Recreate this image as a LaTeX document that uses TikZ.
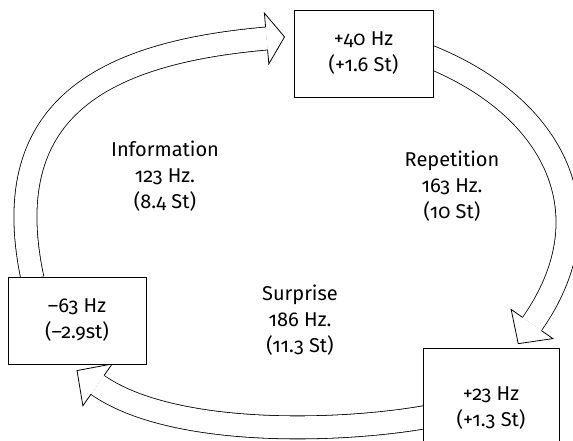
\documentclass[tikz,border=0pt]{standalone}
\usepackage{fontspec}
\setmainfont{Fira Sans}[Numbers=OldStyle]
\usetikzlibrary{calc,backgrounds}

% hollow block-arrow head: end point, direction, length
\newcommand{\blockhead}[3]{%
  \begin{scope}[shift={(#1)},rotate=#2]
    \filldraw[fill=white,line width=0.8pt,line join=miter]
      (0,11.5) -- (0,25.5) -- (#3,0) -- (0,-25.5) -- (0,-11.5);
  \end{scope}}

\begin{document}
\begin{tikzpicture}[x=1pt,y=1pt,
  hzbox/.style={draw,fill=white,line width=0.8pt,inner sep=0pt,align=center,minimum height=87pt},
  cue/.style={align=center},
  shaft/.style={draw=black,line width=0.8pt,double=white,double distance=22.2pt},
  every node/.style={font=\fontsize{20}{26}\selectfont}]
  \useasboundingbox (0,0) rectangle (573,441);
  % the three pitch boxes
  \node[hzbox,minimum width=139pt] (b40) at (363.5,387.5) {+40 Hz\\(+1.6 St)};
  \node[hzbox,minimum width=138pt] (b63) at (77,120.5) {–63 Hz\\(–2.9st)};
  \node[hzbox,minimum width=136pt,minimum height=120pt,anchor=north] (b23) at (491,93) {+23 Hz\\(+1.3 St)};
  % condition labels inside the loop
  \node[cue] (info) at (165,265) {Information\\123 Hz.\\(8.4 St)};
  \node[cue] (rep) at (452,255) {Repetition\\163 Hz.\\(10 St)};
  \node[cue] (surp) at (300,121) {Surprise\\186 Hz.\\(11.3 St)};
  % shaft ends
  \coordinate (s1) at ([xshift=-44.5pt,yshift=-2pt]b63.north);
  \coordinate (e1) at ([xshift=-27pt,yshift=15pt]b40.west);
  \coordinate (s2) at ([xshift=-4pt,yshift=-3pt]b40.east);
  \coordinate (e2) at ([xshift=41pt,yshift=24pt]b23.north);
  \coordinate (s3) at ([xshift=4pt,yshift=-8.5pt]b23.west);
  \coordinate (e3) at ([xshift=20.5pt,yshift=-20.5pt]b63.south);
  \begin{scope}[on background layer]
    \draw[shaft] (s1) to[out=102,in=185,looseness=1.3] (e1);
    \blockhead{e1}{5}{18}
    \draw[shaft] (s2) to[out=-22,in=55,looseness=1.2] (e2);
    \blockhead{e2}{235}{24}
    \draw[shaft] (s3) to[out=190,in=-35,looseness=0.7] (e3);
    \blockhead{e3}{145}{25}
  \end{scope}
\end{tikzpicture}
\end{document}
